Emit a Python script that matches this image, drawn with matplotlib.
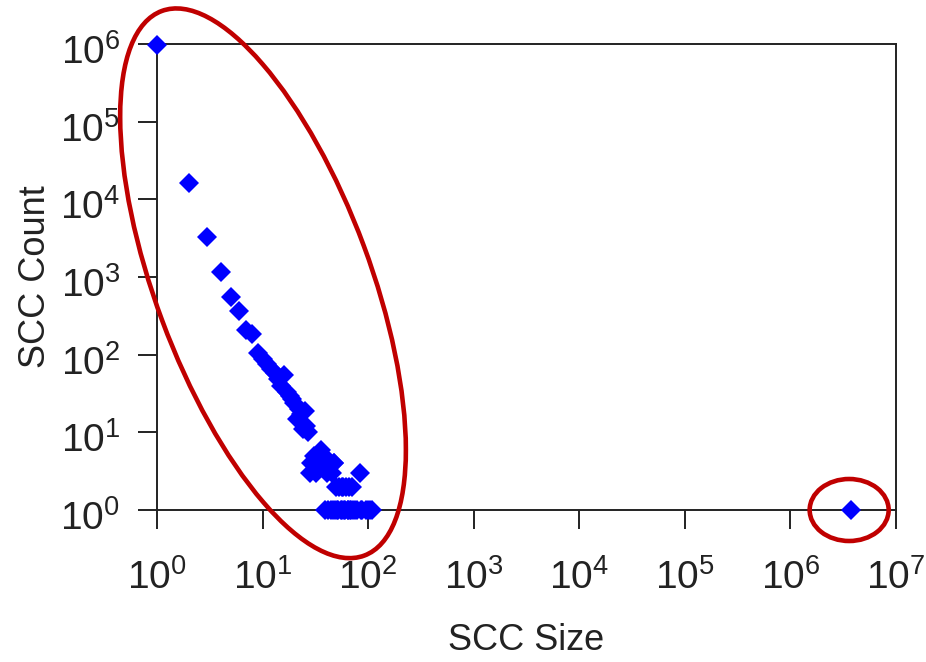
import math
import matplotlib
matplotlib.use("Agg")
import matplotlib.pyplot as plt
from matplotlib.patches import Ellipse
from matplotlib.transforms import IdentityTransform, ScaledTranslation
from matplotlib.ticker import FixedLocator, LogLocator, NullFormatter, FuncFormatter

# ---- data ----
scc_size = [1, 2, 3, 4, 5, 6, 7, 8, 9, 10, 11, 12, 13, 14, 15, 16, 17, 18, 19, 20,
            21, 22, 23, 24, 25, 26, 27, 28, 29, 30, 31, 32, 33, 34, 35, 36, 37, 38,
            40, 41, 43, 45, 47, 48, 50, 53, 56, 58, 62, 66, 70, 84,
            39, 42, 44, 46, 49, 51, 52, 55, 57, 59, 61, 64, 65, 67, 69, 72, 75,
            79, 85, 88, 95, 100, 105, 108,
            3750000]
scc_count = [970000, 16000, 3300, 1170, 545, 370, 205, 185, 104, 88, 76, 66, 58, 48, 40, 54, 33, 29, 27, 24,
             15, 20, 17, 11, 19, 12, 10, 3, 4, 4, 5, 3, 5, 4, 5, 6, 4, 5,
             4, 3, 4, 3, 4, 4, 2, 2, 2, 2, 2, 2, 2, 3,
             1, 1, 1, 1, 1, 1, 1, 1, 1, 1, 1, 1, 1, 1, 1, 1, 1,
             1, 1, 1, 1, 1, 1, 1,
             1]

x_major = [1, 10, 100, 1e3, 1e4, 1e5, 1e6, 1e7]
y_major = [1, 10, 100, 1e3, 1e4, 1e5, 1e6]

# highlight ellipses (annotation): centre in data units, size in pixels
ell1_center = (10.1, 830)
ell2_center = (3600000, 1)

plt.rcParams['font.family'] = ['Liberation Sans', 'DejaVu Sans']
plt.rcParams['mathtext.fontset'] = 'custom'
plt.rcParams['mathtext.rm'] = 'Liberation Sans'
plt.rcParams['mathtext.it'] = 'Liberation Sans'
plt.rcParams['mathtext.default'] = 'regular'
TXT = '#222222'

fig = plt.figure(figsize=(9.26, 6.62), dpi=100)
W, H = 926, 662
ax = fig.add_axes([157 / W, 1 - 510 / H, (896 - 157) / W, (510 - 44) / H])
ax.set_xscale('log')
ax.set_yscale('log')
ax.set_xlim(1, 1e7)
ax.set_ylim(1, 1e6)

ax.plot(scc_size, scc_count, linestyle='none', marker='D', markersize=10,
        markeredgewidth=0, color='#0000FF', clip_on=False, zorder=3)


def fmt(v, p):
    return r'$10^{%d}$' % round(math.log10(v))


for axis, majors in ((ax.xaxis, x_major), (ax.yaxis, y_major)):
    axis.set_major_locator(FixedLocator(majors))
    axis.set_minor_locator(LogLocator(base=10, subs=(2, 5, 8)))
    axis.set_minor_formatter(NullFormatter())
    axis.set_major_formatter(FuncFormatter(fmt))

ax.tick_params(which='major', direction='out', length=13.5, width=1.4, color=TXT,
               labelsize=28, labelcolor=TXT)
ax.tick_params(which='minor', direction='out', length=7.8, width=1.4, color=TXT)
ax.tick_params(axis='x', which='major', pad=22)
ax.tick_params(axis='y', which='major', pad=13)
for s in ax.spines.values():
    s.set_linewidth(1.4)
    s.set_color(TXT)

ax.set_xlabel('SCC Size', fontsize=26, color=TXT, labelpad=19)
ax.set_ylabel('SCC Count', fontsize=26, color=TXT, labelpad=5)

# y tick labels: baseline sits a little below the tick, as in the reference
off = ScaledTranslation(0, -0.20, fig.dpi_scale_trans)
for t in ax.yaxis.get_major_ticks():
    t.label1.set_transform(t.label1.get_transform() + off)
    t.label1.set_va('baseline')

red = '#C00000'
c1 = ax.transData.transform(ell1_center)
c2 = ax.transData.transform(ell2_center)
fig.add_artist(Ellipse(c1, width=581, height=215, angle=-69.6, transform=IdentityTransform(),
                       fill=False, edgecolor=red, linewidth=3.3, zorder=5))
fig.add_artist(Ellipse(c2, width=79, height=62, angle=0, transform=IdentityTransform(),
                       fill=False, edgecolor=red, linewidth=3.3, zorder=5))

fig.savefig('out.png', dpi=100)
